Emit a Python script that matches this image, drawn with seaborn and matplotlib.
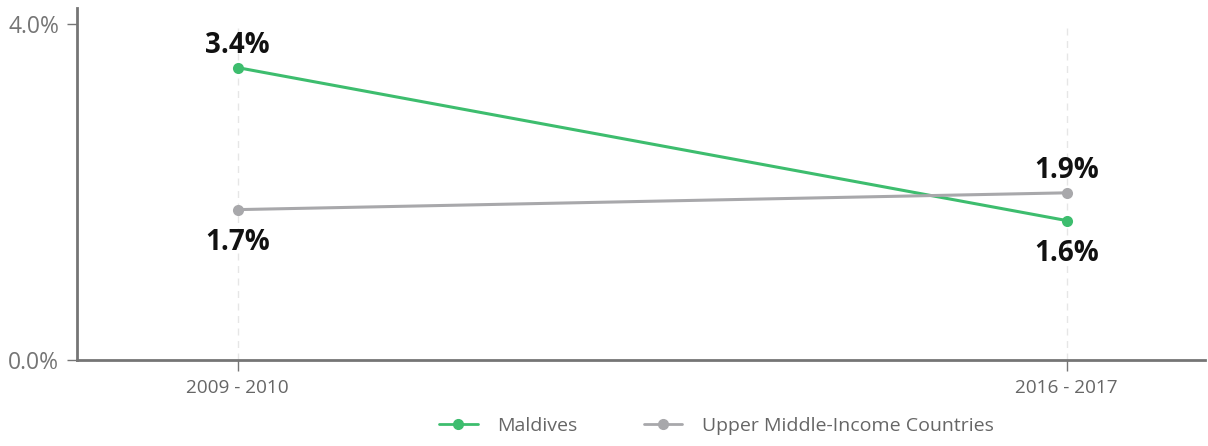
import numpy as np
import pandas as pd
import matplotlib
matplotlib.use("Agg")
import matplotlib.pyplot as plt
import seaborn as sns

# Data
periods = ["2009 - 2010", "2016 - 2017"]
maldives = [3.48, 1.66]
upper_middle = [1.79, 1.99]
series_names = ["Maldives", "Upper Middle-Income Countries"]
y_ticks = [0.0, 4.0]

COLOR_GREEN = "#3dbd6e"
COLOR_GRAY = "#a8a8ab"
COLOR_AXIS = "#757575"

sns.set_theme(style="white")
plt.rcParams["font.family"] = ["Open Sans", "DejaVu Sans"]

df = pd.DataFrame({
    "period": periods * 2,
    "value": maldives + upper_middle,
    "series": [series_names[0]] * 2 + [series_names[1]] * 2,
})

fig = plt.figure(figsize=(12.08, 4.46), dpi=100)
ax = fig.add_axes([77 / 1208, 86 / 446, 1128 / 1208, 352 / 446])

sns.lineplot(data=df, x="period", y="value", hue="series",
             palette=[COLOR_GREEN, COLOR_GRAY], marker="o", markersize=8,
             markeredgewidth=0, linewidth=2.2, ax=ax, legend=False, zorder=3)

# dashed vertical guides at each category
for i in range(len(periods)):
    ax.axvline(i, ymin=0, ymax=4.0 / 4.19, color="#e6e6e6", linewidth=1,
               linestyle=(0, (5, 4)), zorder=1)

ax.set_xlim(-0.194, 1.167)
ax.set_ylim(0, 4.19)
ax.set_yticks(y_ticks)
ax.set_yticklabels([f"{v:.1f}%" for v in y_ticks], fontsize=16.5, color=COLOR_AXIS)
ax.set_xticks(range(len(periods)))
ax.set_xticklabels(periods, fontsize=13.7, color="#666666")
ax.set_xlabel("")
ax.set_ylabel("")

for side in ["top", "right"]:
    ax.spines[side].set_visible(False)
for side in ["left", "bottom"]:
    ax.spines[side].set_color(COLOR_AXIS)
    ax.spines[side].set_linewidth(2)
ax.tick_params(axis="y", left=True, length=7, width=1, color=COLOR_AXIS, pad=6)
ax.tick_params(axis="x", bottom=True, length=8, width=1, color=COLOR_AXIS, pad=6)

# value labels: above or below each point
label_pos = {
    series_names[0]: ["above", "below"],
    series_names[1]: ["below", "above"],
}
for name, vals in zip(series_names, [maldives, upper_middle]):
    for i, v in enumerate(vals):
        txt = f"{np.floor(v * 10) / 10:.1f}%"
        if label_pos[name][i] == "above":
            ax.annotate(txt, (i, v), xytext=(0, 5.5), textcoords="offset points",
                        ha="center", va="bottom", fontsize=20, fontweight="bold",
                        color="#111111")
        else:
            ax.annotate(txt, (i, v), xytext=(0, -13), textcoords="offset points",
                        ha="center", va="top", fontsize=20, fontweight="bold",
                        color="#111111")

handles = [
    plt.Line2D([], [], color=COLOR_GREEN, marker="o", markersize=7, linewidth=2),
    plt.Line2D([], [], color=COLOR_GRAY, marker="o", markersize=7, linewidth=2),
]
fig.legend(handles, series_names, loc="lower center", bbox_to_anchor=(0.593, -0.015),
           ncol=2, frameon=False, fontsize=14, handlelength=2.0, columnspacing=3.4,
           handletextpad=1.0, labelcolor="#666666")

fig.savefig("out.png", dpi=100, facecolor="white")
